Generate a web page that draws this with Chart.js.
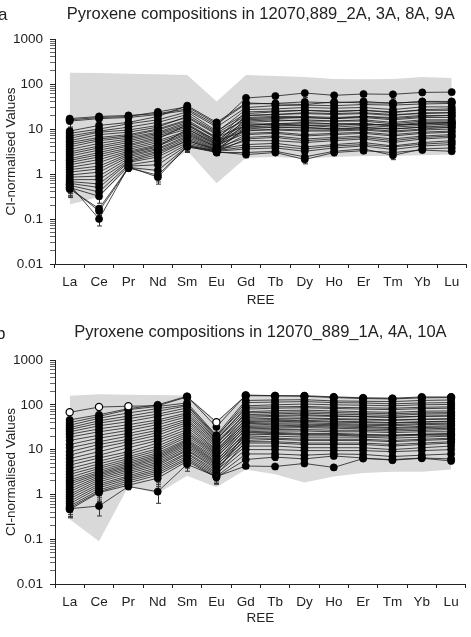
<!DOCTYPE html>
<html>
<head>
<meta charset="utf-8">
<script src="https://cdn.jsdelivr.net/npm/chart.js@4.4.1/dist/chart.umd.min.js"></script>
<style>
  body { margin: 0; background: #fff; width: 471px; height: 637px; overflow: hidden; position: relative;
         font-family: "Liberation Sans", Arial, sans-serif; }
  .panel { position: absolute; left: 0; width: 471px; }
  .tag { position: absolute; font-size: 17px; color: #222; }
</style>
</head>
<body>
<div class="panel" style="top:0;height:318px"><canvas id="chartA"></canvas></div>
<div class="panel" style="top:318px;height:319px"><canvas id="chartB"></canvas></div>
<div class="tag" style="left:-2px;top:5px">a</div>
<div class="tag" style="left:-4px;top:324px">b</div>

<script>
// REE categories and y ticks
const ree = ['La', 'Ce', 'Pr', 'Nd', 'Sm', 'Eu', 'Gd', 'Tb', 'Dy', 'Ho', 'Er', 'Tm', 'Yb', 'Lu'];
const yTicks = [0.01, 0.1, 1, 10, 100, 1000];
const titleA = 'Pyroxene compositions in 12070,889_2A, 3A, 8A, 9A';
const titleB = 'Pyroxene compositions in 12070_889_1A, 4A, 10A';

// grey envelope (upper / lower)
const envHiA = [178, 175, 170, 165, 158, 41, 158, 150, 143, 129, 127, 129, 143, 136];
const envLoA = [0.21, 0.31, 1.3, 1.1, 3.3, 0.62, 2.3, 2.4, 2.2, 2.4, 2.5, 2.5, 2.6, 2.7];
const envHiB = [160, 172, 168, 165, 162, 43, 165, 162, 158, 155, 150, 148, 150, 148];
const envLoB = [0.28, 0.09, 1.5, 1.05, 2.6, 1.45, 3.6, 2.8, 1.85, 2.5, 3.0, 3.2, 3.2, 3.6];

// relative analytical errors per element
const errA = [0.35, 0.3, 0.15, 0.3, 0.25, 0.15, 0.15, 0.12, 0.2, 0.15, 0.12, 0.2, 0.12, 0.12];
const errB = [0.35, 0.4, 0.15, 0.45, 0.3, 0.3, 0.12, 0.15, 0.12, 0.12, 0.1, 0.12, 0.1, 0.1];

// panel a: individual analyses
const linesA = [
  [17, 19, 20, 22, 28, 12, 49, 54, 63, 56, 60, 59, 65, 66],
  [16, 18, 19, 24, 31, 13, 36, 37, 40, 38, 41, 37, 41, 41],
  [15, 17, 18, 21, 26, 11, 30, 33, 34, 33, 35, 34, 36, 37],
  [9, 12, 14, 19, 33, 14, 38, 36, 35, 40, 38, 38, 40, 39],
  [8, 10, 13, 16, 24, 9, 22, 24, 26, 24, 26, 23, 27, 28],
  [7, 9, 11, 14, 21, 8.5, 27, 28, 30, 29, 30, 27, 31, 31],
  [6.2, 8.5, 9.5, 12, 18, 7.5, 16, 17, 18, 17, 19, 17, 19, 20],
  [5.5, 7.5, 8.5, 11, 19, 8, 20, 21, 22, 21, 22, 20, 23, 23],
  [5, 6.5, 7.5, 10, 16, 6.5, 12, 13, 12, 12, 13, 12, 13, 14],
  [4.5, 6, 7, 9.5, 15, 6, 24, 25, 26, 25, 26, 24, 26, 26],
  [4, 5.5, 6.5, 8.5, 14, 6.5, 18, 19, 19, 18, 19, 18, 20, 20],
  [3.5, 4.8, 6, 8, 13, 5.5, 9, 10, 9.5, 9.5, 10, 9, 10, 11],
  [3.1, 4.2, 5.5, 7.5, 12, 5.5, 15, 16, 15, 15, 16, 14, 16, 16],
  [2.8, 3.8, 5, 7, 11, 5, 20, 21, 23, 22, 23, 21, 22, 23],
  [2.5, 3.4, 4.5, 6.5, 10, 4.5, 11, 12, 12, 11, 12, 11, 12, 13],
  [2.2, 3, 4.2, 6, 12.5, 5, 14, 15, 16, 15, 15, 13, 15, 15],
  [2, 2.7, 3.8, 5.5, 9, 4.5, 8, 8.5, 7.5, 8, 8.5, 7.5, 8.5, 9],
  [1.8, 2.4, 3.5, 5, 8.5, 4.2, 17, 18, 18, 17, 18, 16, 18, 18],
  [1.6, 2.1, 3.2, 4.5, 8, 4, 10, 11, 10.5, 10, 11, 10, 11, 11],
  [1.4, 1.8, 3, 4.2, 7.5, 4, 13, 13, 13, 13, 13, 12, 13, 13],
  [1.25, 1.5, 2.8, 4, 10, 4.8, 12, 13, 14, 13, 13, 12, 14, 14],
  [1.1, 1.3, 2.6, 3.7, 7, 3.8, 6.5, 7, 6, 6.5, 7, 6, 7, 7.5],
  [0.95, 1.1, 2.4, 3.5, 6.5, 3.6, 9.5, 9.5, 9, 9, 9.5, 8.5, 9.5, 10],
  [0.85, 0.9, 2.2, 3.2, 6, 3.5, 5.5, 5.5, 5, 5.5, 6, 5, 6, 6.5],
  [0.75, 0.75, 2, 3, 5.5, 3.4, 7.5, 8, 7, 7.5, 8, 7, 8, 8.5],
  [0.68, 0.6, 1.9, 2.7, 5.5, 3.5, 4.5, 4.8, 4, 4.5, 5, 4.2, 5, 5.5],
  [0.62, 0.5, 1.8, 2.4, 5, 3.3, 11, 11, 11, 10, 10.5, 10, 11, 12],
  [0.56, 0.4, 1.6, 2, 4.6, 3.2, 3.6, 3.8, 3.2, 3.8, 4.2, 3.5, 4.2, 4.5],
  [0.5, 0.32, 1.5, 1.6, 4.3, 3.1, 6, 6.5, 5.5, 6, 6.5, 5.5, 6.5, 7],
  [0.46, 0.17, 1.4, 1.2, 4.1, 3.0, 3, 3.2, 2.4, 3.2, 3.6, 2.6, 3.6, 3.8],
  [0.5, 0.15, 1.35, 0.95, 4, 3.1, 2.7, 3, 2.1, 3, 3.3, 3, 3.4, 3.2],
  [0.58, 0.1, 1.45, 0.85, 4.2, 3.3, 4, 4.2, 3.6, 4.2, 4.5, 4, 4.6, 5]
];

// panel b: individual analyses
const linesB = [
  [46, 60, 82, 100, 155, 32, 165, 160, 160, 150, 143, 140, 150, 150],
  [40, 55, 78, 92, 110, 21, 125, 128, 130, 122, 120, 118, 125, 128],
  [35, 50, 66, 82, 100, 20, 95, 100, 104, 100, 98, 95, 100, 102],
  [31, 44, 56, 72, 95, 19, 112, 115, 118, 112, 110, 105, 110, 112],
  [28, 39, 49, 62, 85, 18, 80, 84, 86, 83, 80, 78, 82, 84],
  [25, 34, 42, 55, 75, 17, 70, 74, 76, 73, 70, 68, 72, 73],
  [22, 29, 36, 46, 66, 16, 88, 90, 92, 88, 86, 84, 88, 90],
  [19, 25, 31, 41, 60, 15, 60, 63, 65, 62, 60, 58, 62, 63],
  [16, 21, 27, 36, 54, 14, 52, 55, 57, 55, 54, 52, 55, 56],
  [13, 18, 23, 31, 48, 13, 66, 68, 70, 67, 65, 63, 66, 67],
  [11, 15, 20, 27, 44, 12, 45, 47, 49, 47, 46, 45, 47, 48],
  [9, 13, 17, 24, 40, 11, 56, 58, 60, 57, 55, 53, 56, 57],
  [7.5, 11, 15, 21, 36, 10, 40, 42, 43, 41, 40, 39, 41, 42],
  [6.3, 9, 13, 18, 32, 9.5, 48, 50, 51, 49, 48, 46, 48, 49],
  [5.3, 7.5, 11, 16, 28, 9, 35, 37, 37, 36, 35, 34, 36, 37],
  [4.5, 6.5, 9, 14, 25, 8.5, 42, 44, 45, 43, 42, 40, 42, 43],
  [3.8, 5.5, 8, 12, 23, 8, 31, 32, 33, 32, 31, 30, 31, 32],
  [3.2, 4.8, 7, 10.5, 21, 7.5, 38, 39, 40, 38, 37, 36, 38, 39],
  [2.8, 4.2, 6.3, 9.5, 19, 7, 27, 28, 28, 27, 27, 26, 27, 28],
  [2.4, 3.8, 5.7, 8.5, 17, 6.5, 33, 34, 35, 34, 33, 31, 33, 34],
  [2.1, 3.4, 5.2, 7.8, 16, 6, 22, 23, 22, 22, 21, 21, 22, 22],
  [1.9, 3.1, 4.8, 7.2, 15, 5.5, 29, 30, 31, 30, 29, 28, 29, 30],
  [1.7, 2.9, 4.4, 6.7, 14, 5.2, 19, 20, 19, 19, 19, 18, 19, 20],
  [1.5, 2.7, 4.1, 6.2, 13, 4.9, 25, 26, 26, 25, 25, 24, 25, 25],
  [1.3, 2.5, 3.8, 5.7, 12, 4.6, 16, 17, 16, 16, 16, 15, 16, 17],
  [1.15, 2.3, 3.5, 5.2, 11, 4.3, 21, 22, 21, 21, 20, 20, 21, 21],
  [1.0, 2.1, 3.2, 4.8, 10, 4, 14, 14, 13, 13, 13, 12, 13, 14],
  [0.9, 1.9, 2.9, 4.4, 9.5, 3.7, 18, 18, 17, 17, 17, 16, 17, 18],
  [0.8, 1.7, 2.6, 4, 8.5, 3.4, 12, 12, 11, 11, 11, 10, 11, 12],
  [0.7, 1.55, 2.4, 3.6, 8, 3.1, 24, 24, 23, 23, 22, 21, 22, 23],
  [0.62, 1.4, 2.2, 3.3, 7.2, 2.9, 10, 10, 9.5, 9.5, 9.5, 9, 9.5, 10],
  [0.55, 1.25, 2, 3, 6.5, 2.7, 15, 15, 14, 14, 14, 13, 14, 15],
  [0.5, 1.15, 1.8, 2.7, 6, 2.5, 8, 8, 7.5, 8, 7.8, 7, 7.5, 8],
  [0.46, 1.1, 1.6, 2.3, 5.5, 2.4, 6, 6.8, 6.2, 7.2, 6.5, 5.8, 6.4, 5.6],
  [0.48, 0.55, 1.5, 1.15, 4.7, 2.5, 4.3, 4.2, 4.9, 4, 6.3, 6, 6.5, 6.2]
];
// the one analysis plotted with some hollow symbols
const openLineB = [68, 89, 93, 95, 150, 41, 160, 158, 155, 145, 138, 135, 143, 145];
const openPtsB = [1, 1, 1, 0, 0, 1, 0, 0, 0, 0, 0, 0, 0, 0];

Chart.defaults.font.family = '"Liberation Sans", Arial, sans-serif';
Chart.defaults.color = '#222';

// error bars (lower half only is visible below the symbols), drawn right after the grey envelope
const errorBars = {
    id: 'errorBars',
    afterDatasetDraw(chart, args) {
        if (args.index !== 1) return;
        const ctx = chart.ctx;
        const xs = chart.scales.x, ys = chart.scales.y;
        ctx.save();
        ctx.strokeStyle = '#333';
        ctx.lineWidth = 1;
        chart.data.datasets.forEach(ds => {
            if (!ds.errs) return;
            ds.data.forEach((v, j) => {
                const e = ds.errs[j];
                const x = Math.round(xs.getPixelForValue(j)) + 0.5;
                const y1 = ys.getPixelForValue(v * (1 - e));
                const y0 = ys.getPixelForValue(v);
                ctx.beginPath();
                ctx.moveTo(x, y0); ctx.lineTo(x, y1);
                ctx.moveTo(x - 2.5, y1); ctx.lineTo(x + 2.5, y1);
                ctx.stroke();
            });
        });
        ctx.restore();
    }
};

function makeChart(id, opt) {
    const datasets = [
        { data: opt.hi, fill: '+1', backgroundColor: '#d9d9d9', borderColor: 'transparent', borderWidth: 0, pointRadius: 0, order: 3 },
        { data: opt.lo, fill: false, borderColor: 'transparent', borderWidth: 0, pointRadius: 0, order: 2 }
    ];
    opt.lines.forEach(vals => {
        datasets.push({
            data: vals, errs: opt.errs, order: 0,
            borderColor: 'rgba(20,20,20,0.85)', borderWidth: 0.9,
            pointRadius: 3.6, pointBackgroundColor: '#000', pointBorderColor: '#000', pointBorderWidth: 0.6
        });
    });
    if (opt.openLine) {
        datasets.push({
            data: opt.openLine, order: -1,
            borderColor: 'rgba(20,20,20,0.85)', borderWidth: 0.9,
            pointRadius: 3.6, pointBorderColor: '#000', pointBorderWidth: 1.2,
            pointBackgroundColor: opt.openPts.map(o => o ? '#fff' : '#000')
        });
    }

    return new Chart(document.getElementById(id), {
        type: 'line',
        data: { labels: ree, datasets: datasets },
        plugins: [errorBars],
        options: {
            responsive: true,
            maintainAspectRatio: false,
            animation: false,
            devicePixelRatio: 1,
            layout: { padding: { left: 0, right: 4, top: 0, bottom: 0 } },
            plugins: {
                legend: { display: false },
                tooltip: { enabled: false },
                title: {
                    display: true, text: opt.title, fullSize: false, color: '#222',
                    font: { size: 16.5, weight: 'normal' },
                    padding: { top: 5, bottom: opt.titlePad }
                }
            },
            scales: {
                x: {
                    type: 'category',
                    offset: true,
                    grid: { offset: true, drawOnChartArea: false, drawTicks: true, tickLength: 4, tickColor: '#222' },
                    border: { color: '#222', width: 1 },
                    ticks: { font: { size: 13.5 }, color: '#222', padding: 6, maxRotation: 0, autoSkip: false },
                    title: { display: true, text: 'REE', font: { size: 13.5 }, color: '#222', padding: { top: 0, bottom: opt.reePad } },
                    afterFit: s => { s.height = opt.xHeight; }
                },
                y: {
                    type: 'logarithmic',
                    min: 0.01, max: 1000,
                    grid: {
                        drawOnChartArea: false, drawTicks: true, tickLength: 5,
                        tickColor: c => yTicks.includes(c.tick.value) ? '#222' : '#666'
                    },
                    border: { color: '#222', width: 1 },
                    afterBuildTicks: s => {
                        const t = [];
                        for (let k = 0; k < yTicks.length - 1; k++) {
                            for (let m = 1; m < 10; m++) t.push({ value: Number((m * yTicks[k]).toPrecision(3)) });
                        }
                        t.push({ value: yTicks[yTicks.length - 1] });
                        s.ticks = t;
                    },
                    ticks: {
                        autoSkip: false, padding: 7, font: { size: 13.5 }, color: '#222',
                        callback: v => yTicks.includes(v) ? String(v) : ''
                    },
                    title: { display: true, text: 'CI-normalised Values', font: { size: 13.5 }, color: '#222', padding: { top: 3, bottom: 0 } },
                    afterFit: s => { s.width = 55; }
                }
            }
        }
    });
}

makeChart('chartA', { title: titleA, titlePad: 14.2, xHeight: 54, reePad: 10, lines: linesA, hi: envHiA, lo: envLoA, errs: errA });
makeChart('chartB', { title: titleB, titlePad: 17.2, xHeight: 53, reePad: 11, lines: linesB, hi: envHiB, lo: envLoB, errs: errB, openLine: openLineB, openPts: openPtsB });
</script>
</body>
</html>
